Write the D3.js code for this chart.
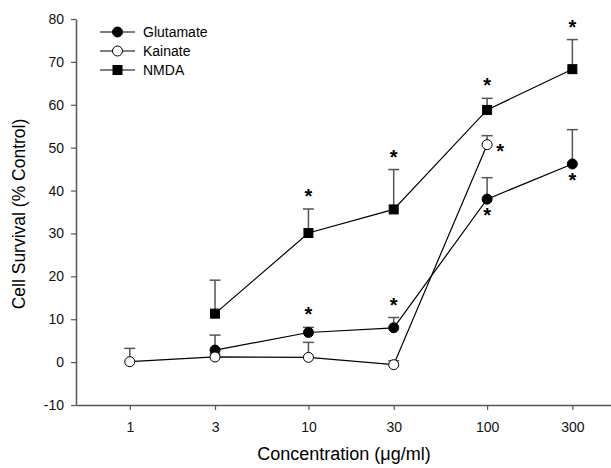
<!DOCTYPE html>
<html>
<head>
<meta charset="utf-8">
<script src="https://cdn.jsdelivr.net/npm/d3@7"></script>
<style>
  body { margin: 0; background: #fff; }
  svg { display: block; font-family: Arial, "Liberation Sans", sans-serif; }
</style>
</head>
<body>
<script>
// concentrations (ug/ml)
const doses = [1, 3, 10, 30, 100, 300];

// mean values and upper error (mean + SEM), null = no point
const glutamate = [null, 2.8, 6.9, 8.0, 38.0, 46.2];
const glutamateErr = [null, 6.3, 8.1, 10.4, 43.0, 54.2];
const kainate = [0.1, 1.2, 1.1, -0.6, 50.7, null];
const kainateErr = [3.2, 1.9, 4.6, 0.3, 52.8, null];
const nmda = [null, 11.3, 30.1, 35.6, 58.8, 68.3];
const nmdaErr = [null, 19.1, 35.7, 44.9, 61.5, 75.2];

const yTicks = [-10, 0, 10, 20, 30, 40, 50, 60, 70, 80];

// significance marks: series, dose, where
const stars = [
  ["nmda", 10, "above"], ["nmda", 30, "above"], ["nmda", 100, "above"], ["nmda", 300, "above"],
  ["glutamate", 10, "above"], ["glutamate", 30, "above"],
  ["glutamate", 100, "below"], ["glutamate", 300, "below"],
  ["kainate", 100, "right"]
];

const width = 611, height = 468;
const margin = { top: 19, right: 0, bottom: 63, left: 76 };

const svg = d3.select("body").append("svg")
  .attr("width", width)
  .attr("height", height);

const x = d3.scaleLog()
  .domain([0.5, 500])
  .range([margin.left, 612]);

const y = d3.scaleLinear()
  .domain([-10, 80])
  .range([height - margin.bottom, margin.top]);

const axisColor = "#555";

// x axis
const xAxis = svg.append("g")
  .attr("transform", `translate(0,${y(-10)})`)
  .call(d3.axisBottom(x).tickValues(doses).tickFormat(d => String(d)).tickSize(5).tickSizeOuter(0).tickPadding(12));

// y axis
const yAxis = svg.append("g")
  .attr("transform", `translate(${margin.left},0)`)
  .call(d3.axisLeft(y).tickValues(yTicks).tickFormat(d => String(d)).tickSize(5).tickSizeOuter(0).tickPadding(7));

[xAxis, yAxis].forEach(a => {
  a.select(".domain").attr("stroke", axisColor).attr("stroke-width", 1.5);
  a.selectAll(".tick line").attr("stroke", axisColor).attr("stroke-width", 1.2);
  a.selectAll("text").attr("font-size", 14).attr("fill", "#111");
});

svg.append("text")
  .attr("x", 344)
  .attr("y", 460)
  .attr("text-anchor", "middle")
  .attr("font-size", 18)
  .text("Concentration (\u03bcg/ml)");

svg.append("text")
  .attr("transform", `translate(25,214) rotate(-90)`)
  .attr("text-anchor", "middle")
  .attr("font-size", 17.5)
  .text("Cell Survival (% Control)");

const series = [
  { key: "glutamate", name: "Glutamate", values: glutamate, err: glutamateErr, shape: "circle", fill: "#000" },
  { key: "kainate", name: "Kainate", values: kainate, err: kainateErr, shape: "circle", fill: "#fff" },
  { key: "nmda", name: "NMDA", values: nmda, err: nmdaErr, shape: "square", fill: "#000" }
];

const line = d3.line()
  .defined(d => d.v != null)
  .x(d => x(d.dose))
  .y(d => y(d.v));

function drawMarker(g, s) {
  if (s.shape === "circle") {
    g.append("circle").attr("r", 5).attr("fill", s.fill).attr("stroke", "#000").attr("stroke-width", 1);
  } else {
    g.append("rect").attr("x", -4.5).attr("y", -4.5).attr("width", 9).attr("height", 9)
      .attr("fill", s.fill).attr("stroke", "#000").attr("stroke-width", 1);
  }
}

// error bars first, then lines, then markers
series.forEach(s => {
  const pts = doses.map((dose, i) => ({ dose, v: s.values[i], e: s.err[i] })).filter(d => d.v != null);
  const eb = svg.append("g").attr("stroke", axisColor).attr("stroke-width", 1.5);
  eb.selectAll("line.v").data(pts).join("line")
    .attr("x1", d => x(d.dose)).attr("x2", d => x(d.dose))
    .attr("y1", d => y(d.v)).attr("y2", d => y(d.e));
  eb.selectAll("line.c").data(pts).join("line")
    .attr("x1", d => x(d.dose) - 5.5).attr("x2", d => x(d.dose) + 5.5)
    .attr("y1", d => y(d.e)).attr("y2", d => y(d.e));
});

series.forEach(s => {
  const pts = doses.map((dose, i) => ({ dose, v: s.values[i] }));
  svg.append("path")
    .datum(pts.filter(d => d.v != null))
    .attr("fill", "none")
    .attr("stroke", "#000")
    .attr("stroke-width", 1.2)
    .attr("d", line);
});

series.forEach(s => {
  const pts = doses.map((dose, i) => ({ dose, v: s.values[i] })).filter(d => d.v != null);
  svg.selectAll(null).data(pts).join("g")
    .attr("transform", d => `translate(${x(d.dose)},${y(d.v)})`)
    .each(function() { drawMarker(d3.select(this), s); });
});

// asterisks
const byKey = Object.fromEntries(series.map(s => [s.key, s]));
svg.selectAll("text.star").data(stars).join("text")
  .attr("class", "star")
  .attr("font-size", 20)
  .attr("font-weight", "bold")
  .attr("text-anchor", "middle")
  .attr("x", ([k, dose, pos]) => x(dose) + (pos === "right" ? 13 : 0))
  .attr("y", ([k, dose, pos]) => {
    const s = byKey[k], i = doses.indexOf(dose);
    if (pos === "above") return y(s.err[i]) - 6;
    if (pos === "below") return y(s.values[i]) + 23;
    return y(s.values[i]) + 13;
  })
  .text("*");

// legend
const legend = svg.append("g").attr("transform", "translate(100,32)");
series.forEach((s, i) => {
  const row = legend.append("g").attr("transform", `translate(0,${i * 19})`);
  row.append("line").attr("x1", 0).attr("x2", 35).attr("stroke", "#000").attr("stroke-width", 1.2);
  drawMarker(row.append("g").attr("transform", "translate(17.5,0)"), s);
  row.append("text").attr("x", 43).attr("y", 5).attr("font-size", 14).text(s.name);
});
</script>
</body>
</html>
